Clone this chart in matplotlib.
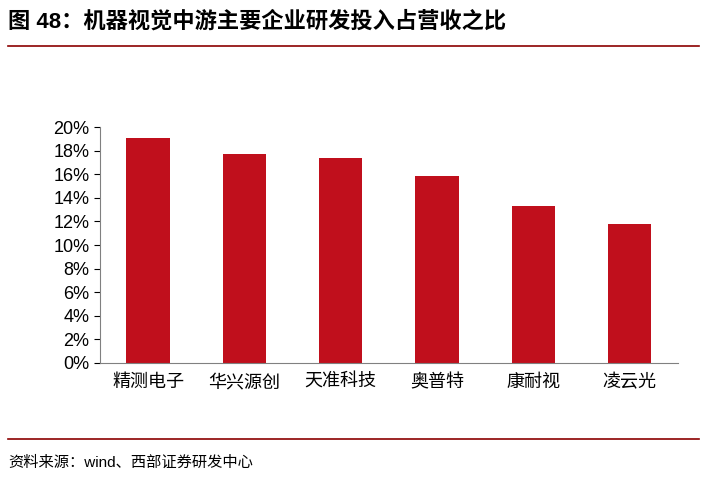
import matplotlib
matplotlib.use("Agg")
import matplotlib.pyplot as plt
from matplotlib.ticker import PercentFormatter
from matplotlib.lines import Line2D

plt.rcParams["font.family"] = ["Liberation Sans", "Noto Sans CJK SC", "DejaVu Sans"]

companies = ["精测电子", "华兴源创", "天准科技", "奥普特", "康耐视", "凌云光"]
rd_ratio = [19.05, 17.7, 17.4, 15.9, 13.3, 11.8]
title = "图 48：机器视觉中游主要企业研发投入占营收之比"
source = "资料来源：wind、西部证券研发中心"

fig = plt.figure(figsize=(7.03, 4.80), dpi=100)
ax = fig.add_axes([0.142, 0.244, 0.822, 0.491])
ax.bar(range(len(companies)), rd_ratio, width=0.45, color="#C00F1C")
ax.set_xlim(-0.5, len(companies) - 0.5)
ax.set_ylim(0, 20)
ax.set_yticks(range(0, 21, 2))
ax.yaxis.set_major_formatter(PercentFormatter(decimals=0))
ax.set_xticks(range(len(companies)))
ax.set_xticklabels(companies, fontsize=13)
ax.tick_params(axis="y", labelsize=13, length=4, direction="out")
ax.tick_params(axis="x", length=0, pad=8)
for s in ["top", "right"]:
    ax.spines[s].set_visible(False)
ax.spines["left"].set_color("#808080")
ax.spines["bottom"].set_color("#808080")

fig.text(0.012, 0.955, title, fontsize=16, fontweight="bold", va="center", ha="left")
fig.add_artist(Line2D([0.012, 0.995], [0.905, 0.905], color="#8B0000", lw=1.2))
fig.add_artist(Line2D([0.012, 0.995], [0.085, 0.085], color="#8B0000", lw=1.2))
fig.text(0.012, 0.037, source, fontsize=11, va="center", ha="left")

fig.savefig("out.png", dpi=100)
